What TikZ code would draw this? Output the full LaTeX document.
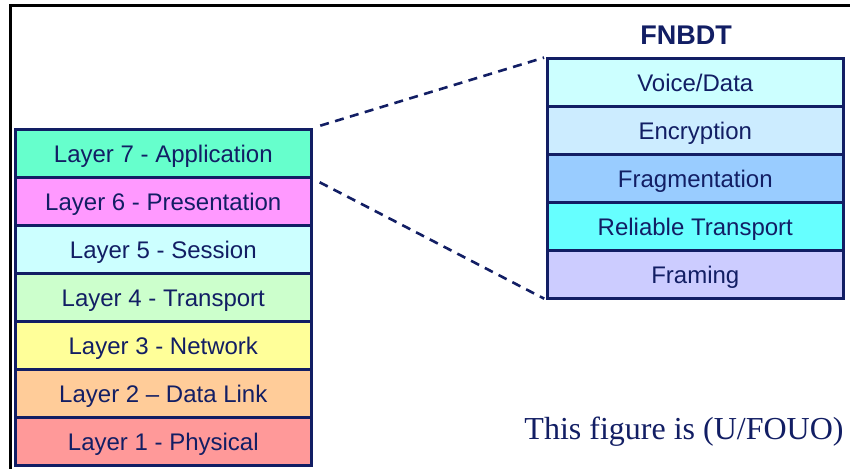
\documentclass[tikz,border=0pt]{standalone}
\usepackage{fontspec}
\setmainfont{Liberation Serif}
\setsansfont{Liberation Sans}
\definecolor{navy}{RGB}{18,30,100}
\definecolor{cL7}{HTML}{66FFCC}
\definecolor{cL6}{HTML}{FF99FF}
\definecolor{cL5}{HTML}{CCFFFF}
\definecolor{cL4}{HTML}{CCFFCC}
\definecolor{cL3}{HTML}{FFFF99}
\definecolor{cL2}{HTML}{FFCC99}
\definecolor{cL1}{HTML}{FF9999}
\definecolor{cVD}{HTML}{CCFFFF}
\definecolor{cEN}{HTML}{CCECFF}
\definecolor{cFR}{HTML}{99CCFF}
\definecolor{cRT}{HTML}{66FFFF}
\definecolor{cFM}{HTML}{CCCCFF}
\begin{document}
\begin{tikzpicture}[x=1pt,y=-1pt,
  layerbox/.style={draw=navy, line width=2.6pt, rectangle, anchor=north west,
    minimum width=296pt, minimum height=48pt, inner sep=0pt,
    text height=18pt, text depth=0pt,
    font=\sffamily\fontsize{24}{28}\selectfont, text=navy},
  zoomline/.style={draw=navy, line width=2.6pt, dash pattern=on 9pt off 6.5pt}]
\useasboundingbox (0,0) rectangle (850,469);
\fill[white] (0,0) rectangle (850,469);
\draw[black, line width=3.6pt] (850,5.5) -- (10.5,5.5) -- (10.5,469);
% OSI stack
\node[layerbox, fill=cL7] (l7) at (14,128) {Layer 7 - Application};
\node[layerbox, fill=cL6] (l6) at (14,176) {Layer 6 - Presentation};
\node[layerbox, fill=cL5] (l5) at (14,224) {Layer 5 - Session};
\node[layerbox, fill=cL4] (l4) at (14,272) {Layer 4 - Transport};
\node[layerbox, fill=cL3] (l3) at (14,320) {Layer 3 - Network};
\node[layerbox, fill=cL2] (l2) at (14,368) {Layer 2 -- Data Link};
\node[layerbox, fill=cL1] (l1) at (14,416) {Layer 1 - Physical};
% FNBDT stack
\node[font=\sffamily\bfseries\fontsize{27}{32}\selectfont, text=navy] (title) at (686,35) {FNBDT};
\node[layerbox, fill=cVD] (vd) at (546,57) {Voice/Data};
\node[layerbox, fill=cEN] (en) at (546,105) {Encryption};
\node[layerbox, fill=cFR] (fr) at (546,153) {Fragmentation};
\node[layerbox, fill=cRT] (rt) at (546,201) {Reliable Transport};
\node[layerbox, fill=cFM] (fm) at (546,249) {Framing};
% dashed connectors
\draw[zoomline, shorten <=8pt, shorten >=2pt] (l7.north east) -- (vd.north west);
\draw[zoomline, shorten <=8pt, shorten >=2pt] (l7.south east) -- (fm.south west);
% caption
\node[font=\fontsize{32}{38}\selectfont, text=navy] (cap) at (684,432) {This figure is (U/FOUO)};
\end{tikzpicture}
\end{document}
